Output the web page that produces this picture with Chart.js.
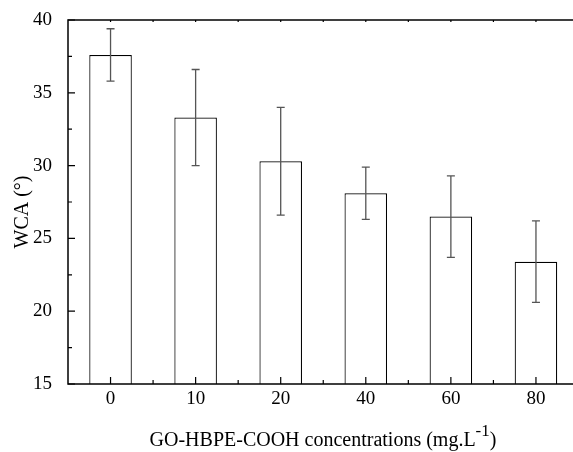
<!DOCTYPE html>
<html>
<head>
<meta charset="utf-8">
<script src="https://cdn.jsdelivr.net/npm/chart.js@4"></script>
<style>
    html, body { margin: 0; padding: 0; background: #fff; overflow: hidden; }
    #wrap { width: 580px; height: 452px; }
</style>
</head>
<body>
<div id="wrap"><canvas id="graficoWCA" width="580" height="452"></canvas></div>
<script>
// concentrações de GO-HBPE-COOH (mg/L) e ângulo de contato (WCA)
const concentracoes = ['0', '10', '20', '40', '60', '80'];
const wca = [37.6, 33.3, 30.3, 28.1, 26.5, 23.4];
const erro = [1.8, 3.3, 3.7, 1.8, 2.8, 2.8];
const ticksY = [15, 20, 25, 30, 35, 40];

const FONTE = "'Liberation Serif', 'DejaVu Serif', serif";

// barras de erro + moldura + ticks internos + títulos dos eixos
const extras = {
    id: 'extras',
    afterDatasetsDraw(chart) {
        const { ctx, chartArea: a, scales: { x, y } } = chart;
        const meta = chart.getDatasetMeta(0);

        ctx.save();
        ctx.strokeStyle = '#555';
        ctx.lineWidth = 1.3;
        meta.data.forEach((bar, i) => {
            const topo = y.getPixelForValue(wca[i] + erro[i]);
            const base = y.getPixelForValue(wca[i] - erro[i]);
            ctx.beginPath();
            ctx.moveTo(bar.x, topo);
            ctx.lineTo(bar.x, base);
            ctx.moveTo(bar.x - 4, topo);
            ctx.lineTo(bar.x + 4, topo);
            ctx.moveTo(bar.x - 4, base);
            ctx.lineTo(bar.x + 4, base);
            ctx.stroke();
        });
        ctx.restore();

        ctx.save();
        ctx.strokeStyle = '#000';
        ctx.lineWidth = 1.5;
        ctx.beginPath();
        ctx.rect(a.left, a.top, a.right - a.left, a.bottom - a.top);
        ctx.stroke();

        ctx.lineWidth = 1.2;
        ctx.beginPath();
        // ticks do eixo y (principais e secundários)
        for (let v = 15; v <= 40; v += 2.5) {
            const py = y.getPixelForValue(v);
            const len = (v % 5 === 0) ? 7 : 4;
            ctx.moveTo(a.left, py);
            ctx.lineTo(a.left + len, py);
        }
        // ticks do eixo x
        const passo = (x.getPixelForValue(1) - x.getPixelForValue(0));
        concentracoes.forEach((c, i) => {
            const px = x.getPixelForValue(i);
            ctx.moveTo(px, a.bottom);
            ctx.lineTo(px, a.bottom - 7);
            ctx.moveTo(px, a.top);
            ctx.lineTo(px, a.top + 2);
            const meio = px + passo / 2;
            ctx.moveTo(meio, a.bottom);
            ctx.lineTo(meio, a.bottom - 4);
            ctx.moveTo(meio, a.top);
            ctx.lineTo(meio, a.top + 2);
        });
        ctx.stroke();
        ctx.restore();
    },
    afterDraw(chart) {
        const { ctx } = chart;
        ctx.save();
        ctx.fillStyle = '#000';

        // título do eixo y
        ctx.font = `20px ${FONTE}`;
        ctx.textAlign = 'center';
        ctx.textBaseline = 'middle';
        ctx.translate(23, 212);
        ctx.rotate(-Math.PI / 2);
        ctx.fillText('WCA (°)', 0, 0);
        ctx.restore();

        // título do eixo x com sobrescrito
        ctx.save();
        ctx.fillStyle = '#000';
        ctx.textBaseline = 'alphabetic';
        ctx.textAlign = 'left';
        const principal = 'GO-HBPE-COOH concentrations (mg.L';
        const sup = '-1';
        ctx.font = `20px ${FONTE}`;
        const w1 = ctx.measureText(principal).width;
        const w3 = ctx.measureText(')').width;
        ctx.font = `17px ${FONTE}`;
        const w2 = ctx.measureText(sup).width;
        const total = w1 + w2 + w3;
        let px = 323 - total / 2;
        const base = 446;
        ctx.font = `20px ${FONTE}`;
        ctx.fillText(principal, px, base);
        px += w1;
        ctx.font = `17px ${FONTE}`;
        ctx.fillText(sup, px, base - 10);
        px += w2;
        ctx.font = `20px ${FONTE}`;
        ctx.fillText(')', px, base);
        ctx.restore();
    }
};

document.addEventListener('DOMContentLoaded', () => {
    const ctx = document.getElementById('graficoWCA').getContext('2d');

    new Chart(ctx, {
        type: 'bar',
        data: {
            labels: concentracoes,
            datasets: [{
                label: 'WCA',
                data: wca,
                backgroundColor: '#fff',
                borderColor: '#000',
                borderWidth: 1.2,
                barPercentage: 0.5,
                categoryPercentage: 1
            }]
        },
        options: {
            responsive: false,
            animation: false,
            devicePixelRatio: 1,
            layout: { padding: { top: 20, right: 1.5, left: 0, bottom: 0 } },
            plugins: {
                legend: { display: false },
                tooltip: { enabled: false }
            },
            scales: {
                x: {
                    grid: { display: false },
                    border: { display: false },
                    ticks: {
                        color: '#000',
                        padding: -4,
                        font: { family: FONTE, size: 19 }
                    },
                    afterFit: s => { s.height = 68; }
                },
                y: {
                    min: 15,
                    max: 40,
                    grid: { display: false },
                    border: { display: false },
                    afterBuildTicks: s => { s.ticks = ticksY.map(v => ({ value: v })); },
                    ticks: {
                        color: '#000',
                        padding: 8,
                        font: { family: FONTE, size: 19 }
                    },
                    afterFit: s => { s.width = 68; }
                }
            }
        },
        plugins: [extras]
    });
});
</script>
</body>
</html>
